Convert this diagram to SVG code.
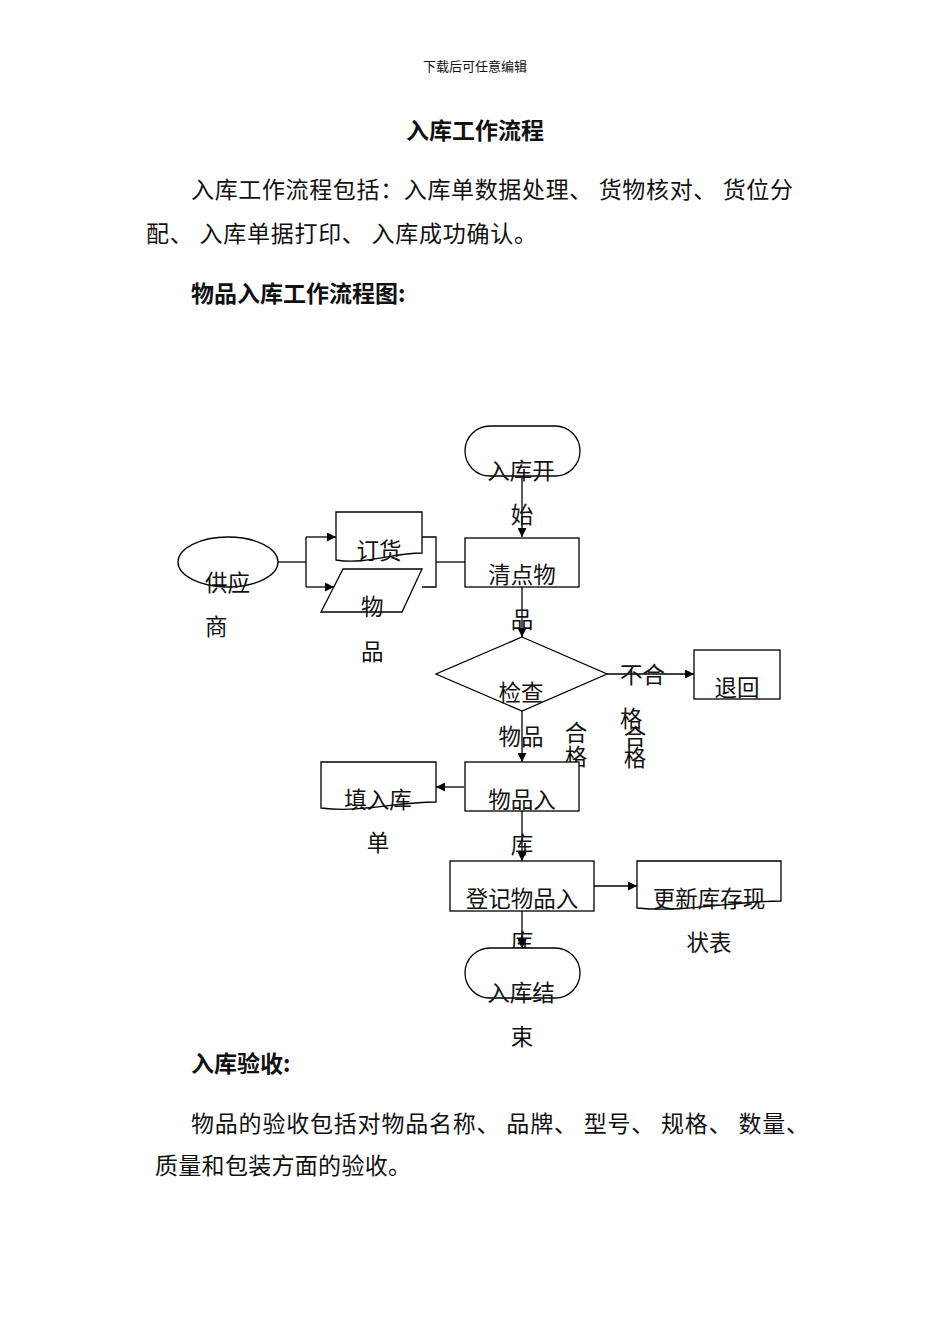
<svg xmlns="http://www.w3.org/2000/svg" width="950" height="1344" viewBox="0 0 950 1344">
<style>
text{font-family:"Noto Sans CJK SC","Noto Sans",sans-serif;fill:#111}
.hd{font-size:13px}
.ti{font-size:23px;font-weight:bold}
.p{font-size:23px}
.b{font-size:23px;font-weight:bold}
.l{font-size:22.5px}
.s{fill:#fff;stroke:#000;stroke-width:1.3}
.c{fill:none;stroke:#000;stroke-width:1.3}
.m{text-anchor:middle}
</style>
<defs>
<marker id="ah" viewBox="0 0 10 10" refX="10" refY="5" markerWidth="9" markerHeight="9" markerUnits="userSpaceOnUse" orient="auto">
<path d="M0,0 L10,5 L0,10 Z" fill="#000"/>
</marker>
</defs>
<rect width="950" height="1344" fill="#fff"/>

<g id="page-text">
<text class="hd m" x="475" y="71">下载后可任意编辑</text>
<text class="ti m" x="475" y="139">入库工作流程</text>
<text class="p" x="191" y="198" textLength="602" lengthAdjust="spacing">入库工作流程包括：入库单数据处理、 货物核对、 货位分</text>
<text class="p" x="146" y="242" textLength="391" lengthAdjust="spacing">配、 入库单据打印、 入库成功确认。</text>
<text class="b" x="191" y="302">物品入库工作流程图:</text>
<text class="b" x="191" y="1072">入库验收:</text>
<text class="p" x="191" y="1132" textLength="618" lengthAdjust="spacing">物品的验收包括对物品名称、 品牌、 型号、 规格、 数量、</text>
<text class="p" x="155" y="1174" textLength="256" lengthAdjust="spacing">质量和包装方面的验收。</text>
</g>

<g id="connectors">
<line class="c" x1="522" y1="476" x2="522" y2="537" marker-end="url(#ah)"/>
<line class="c" x1="522" y1="587" x2="522" y2="637" marker-end="url(#ah)"/>
<line class="c" x1="607" y1="674" x2="694" y2="674" marker-end="url(#ah)"/>
<line class="c" x1="522" y1="711" x2="522" y2="762" marker-end="url(#ah)"/>
<line class="c" x1="464" y1="787" x2="436" y2="787" marker-end="url(#ah)"/>
<line class="c" x1="522" y1="811" x2="522" y2="861" marker-end="url(#ah)"/>
<line class="c" x1="594" y1="886" x2="637" y2="886" marker-end="url(#ah)"/>
<line class="c" x1="522" y1="911" x2="522" y2="948" marker-end="url(#ah)"/>
<polyline class="c" points="278,562 306,562"/>
<polyline class="c" points="306,537 306,587"/>
<line class="c" x1="306" y1="537" x2="336" y2="537" marker-end="url(#ah)"/>
<line class="c" x1="306" y1="587" x2="334" y2="587" marker-end="url(#ah)"/>
<polyline class="c" points="422,537 436,537 436,587 422,587"/>
<line class="c" x1="436" y1="562" x2="465" y2="562"/>
<text class="l" x="620" y="683">不合</text>
<text class="l" x="620" y="727">格</text>
<text class="l m" x="576" y="741">合</text>
<text class="l m" x="576" y="765">格</text>
<text class="l m" x="635" y="745">合</text>
<text class="l m" x="635" y="766">格</text>
</g>

<g id="start">
<rect class="s" x="465" y="426" width="115" height="50" rx="25" ry="25"/>
<text class="l m" x="521" y="479">入库开</text>
<text class="l m" x="522" y="523">始</text>
</g>

<g id="supplier">
<ellipse class="s" cx="228" cy="562" rx="50" ry="25"/>
<text class="l" x="205" y="591">供应</text>
<text class="l" x="205" y="635">商</text>
</g>

<g id="order">
<path class="s" d="M336,512 H422 V553 C392,553 366,565 336,560 Z"/>
<text class="l m" x="379" y="559">订货</text>
</g>

<g id="goods">
<polygon class="s" points="343,569 422,569 402,612 321,612"/>
<text class="l" x="361" y="615">物</text>
<text class="l" x="361" y="660">品</text>
</g>

<g id="count">
<rect class="s" x="465" y="538" width="114" height="49"/>
<text class="l m" x="522" y="583">清点物</text>
<text class="l m" x="522" y="628">品</text>
</g>

<g id="check">
<polygon class="s" points="522,637 607,674 522,711 436,674"/>
<text class="l m" x="521" y="701">检查</text>
<text class="l m" x="521" y="745">物品</text>
</g>

<g id="return">
<rect class="s" x="694" y="650" width="86" height="49"/>
<text class="l m" x="737" y="696">退回</text>
</g>

<g id="instock">
<rect class="s" x="465" y="762" width="114" height="49"/>
<text class="l m" x="522" y="808">物品入</text>
<text class="l m" x="522" y="853">库</text>
</g>

<g id="form">
<path class="s" d="M321,762 H436 V802 C396,802 361,813 321,808 Z"/>
<text class="l m" x="378" y="808">填入库</text>
<text class="l m" x="378" y="851">单</text>
</g>

<g id="register">
<rect class="s" x="450" y="861" width="144" height="50"/>
<text class="l m" x="522" y="907">登记物品入</text>
<text class="l m" x="522" y="950">库</text>
</g>

<g id="update">
<path class="s" d="M637,861 H781 V901 C731,901 687,913 637,908 Z"/>
<text class="l m" x="709" y="907">更新库存现</text>
<text class="l m" x="709" y="951">状表</text>
</g>

<g id="end">
<rect class="s" x="465" y="948" width="115" height="50" rx="25" ry="25"/>
<line class="c" x1="522" y1="935" x2="522" y2="948" marker-end="url(#ah)"/>
<text class="l m" x="521" y="1001">入库结</text>
<text class="l m" x="522" y="1045">束</text>
</g>
</svg>
